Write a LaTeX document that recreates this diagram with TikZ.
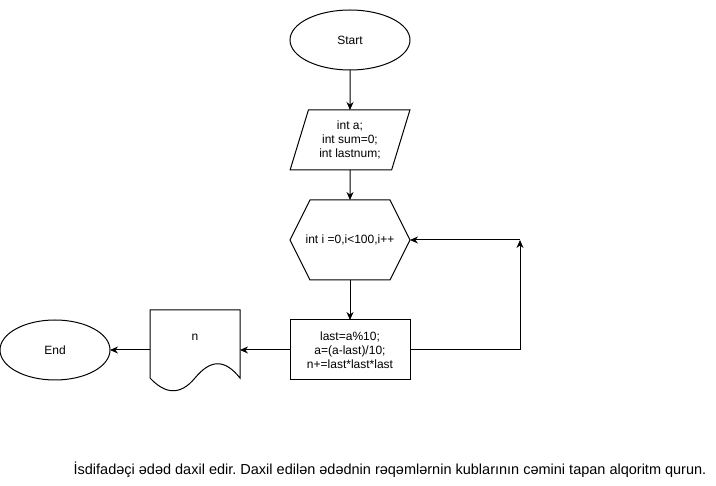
\documentclass[tikz,border=0pt]{standalone}
\usepackage{fontspec}
\setmainfont{Liberation Sans}
\frenchspacing
\usetikzlibrary{shapes.geometric,arrows.meta}
\tikzset{
    >={Stealth[length=8pt,width=7pt]},
    block/.style={
        line width=1pt,
        outer sep=0pt,
        font=\fontsize{12}{14}\selectfont,
        align=center
    },
    terminal/.style={
        block,
        draw,
        ellipse,
        inner sep=0pt,
        minimum width=120,
        minimum height=60
    },
    inputbox/.style={
        block,
        draw,
        trapezium,
        trapezium left angle=71.57,
        trapezium right angle=108.43,
        trapezium stretches=true,
        minimum width=120,
        minimum height=60
    },
    loopbox/.style={
        block,
        minimum width=120,
        minimum height=80
    },
    stepbox/.style={
        block,
        draw,
        rectangle,
        minimum width=120,
        minimum height=60
    },
    docbox/.style={
        block,
        minimum width=90,
        minimum height=80
    }
}

\begin{document}
\begin{tikzpicture}[x=1pt, y=-1pt]
    \useasboundingbox (0, 0) rectangle (716, 486);

    \node[terminal] (start) at (350, 40) {Start};
    \node[inputbox] (vars) at (350, 140) {int a;\\ int sum=0;\\ int lastnum;};
    \node[loopbox] (loop) at (350, 240) {int i =0,i<100,i++};
    \node[stepbox] (body) at (350, 350) {last=a\%10;\\ a=(a-last)/10;\\ n+=last*last*last};
    \node[docbox] (show) at (195, 350) {};
    \node[block] (showtext) at ([yshift=13pt]show.center) {n};
    \node[terminal, minimum width=110] (end) at (55, 350) {End};
    \coordinate (turn) at (520, 240);

    \draw[line width=1pt] (loop.west) -- ([xshift=20pt]loop.north west) -- ([xshift=-20pt]loop.north east)
        -- (loop.east) -- ([xshift=-20pt]loop.south east) -- ([xshift=20pt]loop.south west) -- cycle;
    \draw[line width=1pt] (show.north west) -- (show.north east) -- (240, 378)
        .. controls (224, 358) and (210, 360) .. (195, 378)
        .. controls (180, 396) and (165, 394) .. (150, 378) -- cycle;

    \draw[->, line width=1pt] (start.south) -- (vars.north);
    \draw[->, line width=1pt] (vars.south) -- (loop.north);
    \draw[->, line width=1pt] (loop.south) -- (body.north);
    \draw[->, line width=1pt] (body.east) -| (turn);
    \draw[->, line width=1pt] (turn) -- (loop.east);
    \draw[->, line width=1pt] (body.west) -- (show.east);
    \draw[->, line width=1pt] (show.west) -- (end.east);

    \node[block, font=\fontsize{14.5}{17}\selectfont] (task) at (390, 470) {İsdifadəçi ədəd daxil edir. Daxil edilən ədədnin rəqəmlərnin kublarının cəmini tapan alqoritm qurun.};
\end{tikzpicture}
\end{document}
